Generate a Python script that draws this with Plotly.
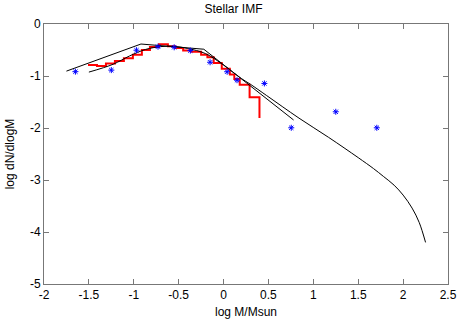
import plotly.graph_objects as go

# red histogram (step edges, log N per bin)
hist_x = [-1.51, -1.41, -1.31, -1.21, -1.11, -1.01, -0.91, -0.82, -0.72, -0.62, -0.54,
          -0.45, -0.36, -0.25, -0.18, -0.11, -0.02, 0.07, 0.12, 0.18, 0.29, 0.40, 0.40]
hist_y = [-0.79, -0.81, -0.76, -0.71, -0.66, -0.59, -0.50, -0.44, -0.39, -0.43, -0.46,
          -0.51, -0.535, -0.59, -0.64, -0.75, -0.86, -0.97, -1.06, -1.17, -1.41, -1.41, -1.81]

# broken power law
bpl_x = [-1.75, -0.92, -0.22, 0.78]
bpl_y = [-0.906, -0.385, -0.485, -1.846]

# smooth IMF with high mass cutoff
imf_x = [-1.50, -1.23, -1.05, -0.87, -0.70, -0.55, -0.40, -0.20, 0.0, 0.1, 0.2, 0.3,
         0.48, 0.84, 1.17, 1.50, 1.67, 1.78, 1.90, 2.00, 2.10, 2.18, 2.25]
imf_y = [-0.925, -0.774, -0.617, -0.49, -0.435, -0.43, -0.47, -0.57, -0.79, -0.92, -1.05, -1.16,
         -1.376, -1.81, -2.18, -2.57, -2.78, -2.93, -3.10, -3.29, -3.54, -3.82, -4.20]

# observed points
obs_x = [-1.65, -1.25, -0.97, -0.73, -0.55, -0.37, -0.15, 0.04, 0.15, 0.455, 0.754, 1.25, 1.707]
obs_y = [-0.917, -0.887, -0.504, -0.436, -0.448, -0.511, -0.736, -0.918, -1.081, -1.143, -1.996, -1.688, -1.996]

xticks = [-2, -1.5, -1, -0.5, 0, 0.5, 1, 1.5, 2, 2.5]
xlabels = ["-2", "-1.5", "-1", "-0.5", "0", "0.5", "1", "1.5", "2", "2.5"]
yticks = [0, -1, -2, -3, -4, -5]
ylabels = ["0", "-1", "-2", "-3", "-4", "-5"]

font = dict(family="Liberation Sans", size=12, color="black")

fig = go.Figure()
fig.add_trace(go.Scatter(x=hist_x, y=hist_y, mode="lines", line_shape="hv",
                         line=dict(color="red", width=2)))
fig.add_trace(go.Scatter(x=bpl_x, y=bpl_y, mode="lines", line=dict(color="black", width=1)))
fig.add_trace(go.Scatter(x=imf_x, y=imf_y, mode="lines", line_shape="spline",
                         line=dict(color="black", width=1)))
fig.add_trace(go.Scatter(x=obs_x, y=obs_y, mode="markers",
                         marker=dict(symbol="asterisk-open", size=5, color="blue",
                                     line=dict(color="blue", width=1))))

axis_style = dict(showline=True, linecolor="#777", linewidth=1, mirror="ticks",
                  ticks="inside", ticklen=5, tickcolor="#777", showgrid=False,
                  zeroline=False, tickfont=font)

fig.update_layout(
    width=467, height=327,
    margin=dict(l=40, r=10, t=24, b=38),
    plot_bgcolor="white", paper_bgcolor="white",
    showlegend=False,
    title=dict(text="Stellar IMF", x=0.5, xanchor="center", y=0.985, yanchor="top",
               font=font),
    xaxis=dict(range=[-2, 2.5], tickvals=xticks, ticktext=xlabels,
               title=dict(text="log M/Msun", standoff=6, font=font),
               **axis_style),
    yaxis=dict(range=[-5, 0], tickvals=yticks, ticktext=ylabels,
               title=dict(text="log dN/dlogM", standoff=12, font=font),
               **axis_style),
)

fig.write_html("out.html", config={"displayModeBar": False},
               post_script="document.body.style.margin='0';")
